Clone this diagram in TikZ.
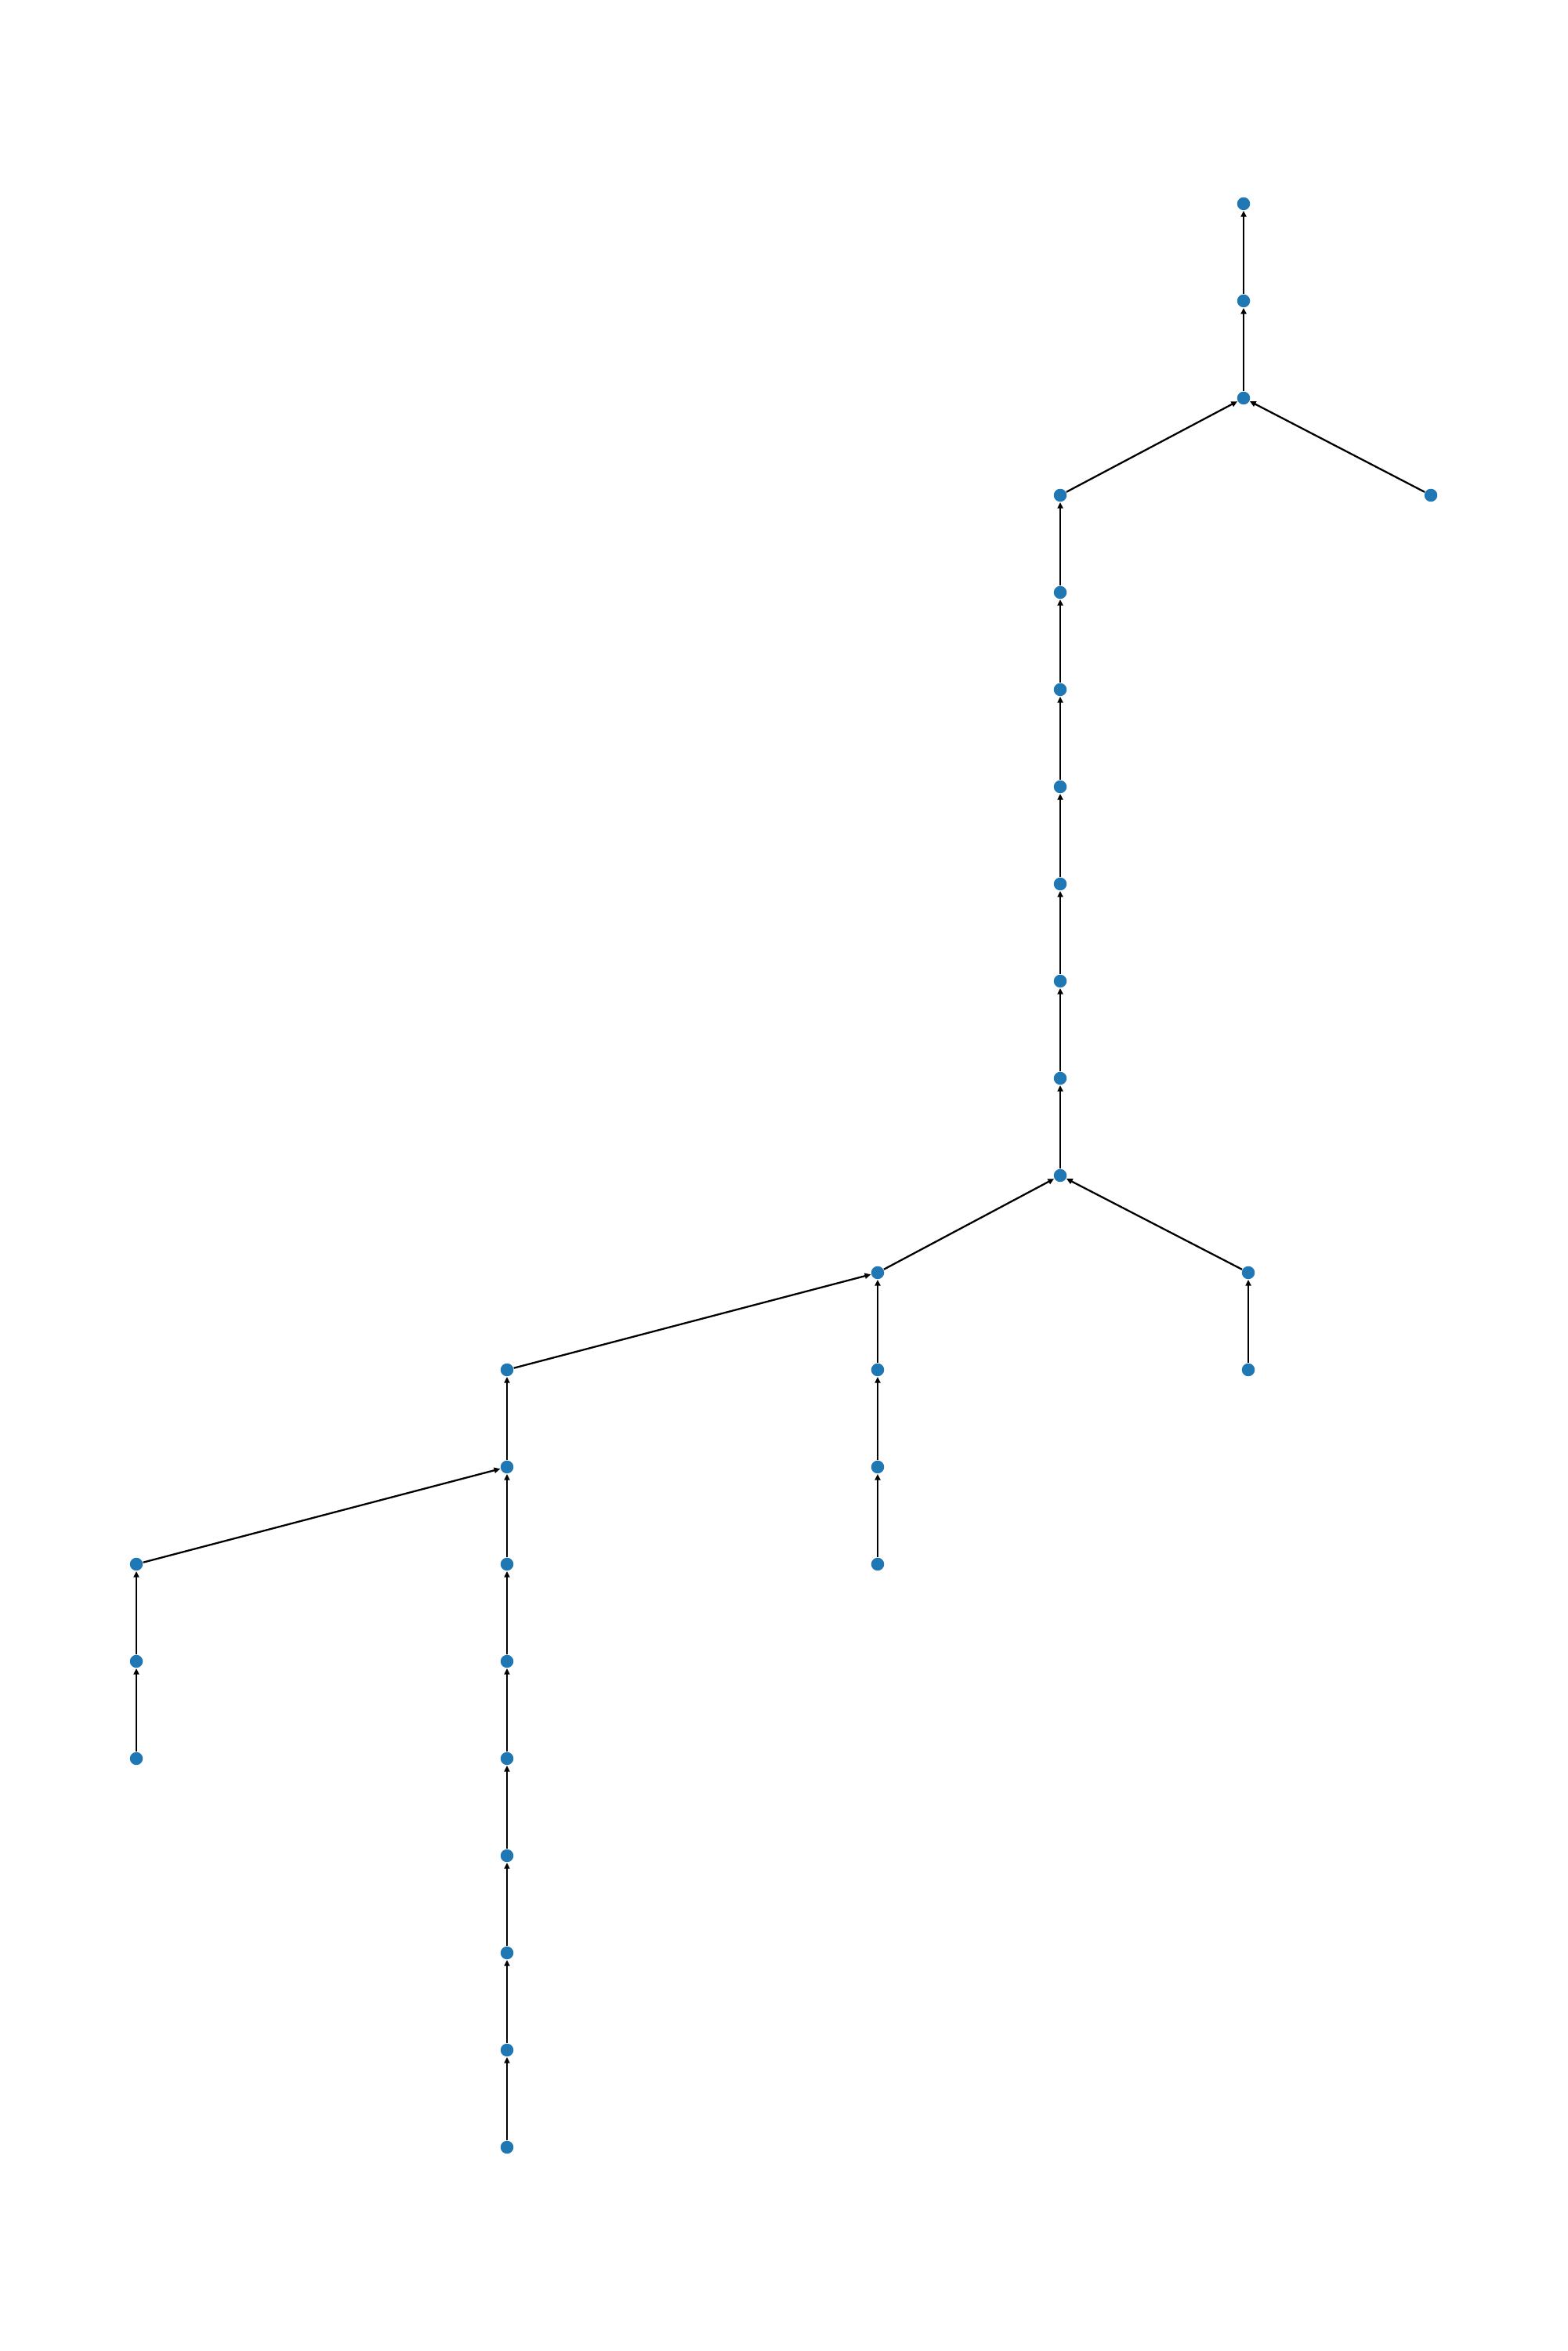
\documentclass[tikz,border=0pt]{standalone}
\usepackage{xcolor}
\usepackage{tikz}
\usetikzlibrary{arrows.meta}
\definecolor{clrDot}{RGB}{31,119,180}

\begin{document}
\begin{tikzpicture}[x=1cm,y=1cm,
    dot/.style={circle,fill=clrDot,inner sep=0pt,minimum size=0.165cm},
    edge/.style={-{Triangle[length=2.2pt,width=2pt]},line width=0.65pt,black}]
  \useasboundingbox (0,0) rectangle (20,30);
  \def\dy{1.24}
  \def\ytop{27.40}

  % columns of nodes, one level = \dy
  \foreach \i in {0,1,2}{\node[dot] (t\i) at (15.87,{\ytop-\i*\dy}) {};}
  \node[dot] (r) at (18.26,{\ytop-3*\dy}) {};
  \foreach \i in {0,...,7}{\node[dot] (m\i) at (13.53,{\ytop-(\i+3)*\dy}) {};}
  \foreach \i in {0,1}{\node[dot] (e\i) at (15.93,{\ytop-(\i+11)*\dy}) {};}
  \foreach \i in {0,...,3}{\node[dot] (c\i) at (11.20,{\ytop-(\i+11)*\dy}) {};}
  \foreach \i in {0,...,8}{\node[dot] (l\i) at (6.47,{\ytop-(\i+12)*\dy}) {};}
  \foreach \i in {0,1,2}{\node[dot] (f\i) at (1.74,{\ytop-(\i+14)*\dy}) {};}

  % edges point to the parent
  \draw[edge] (t1) -- (t0);
  \draw[edge] (t2) -- (t1);
  \draw[edge] (m0) -- (t2);
  \draw[edge] (r) -- (t2);
  \foreach \i [evaluate=\i as \j using int(\i+1)] in {0,...,6}{\draw[edge] (m\j) -- (m\i);}
  \draw[edge] (e0) -- (m7);
  \draw[edge] (c0) -- (m7);
  \draw[edge] (e1) -- (e0);
  \foreach \i [evaluate=\i as \j using int(\i+1)] in {0,1,2}{\draw[edge] (c\j) -- (c\i);}
  \draw[edge] (l0) -- (c0);
  \foreach \i [evaluate=\i as \j using int(\i+1)] in {0,...,7}{\draw[edge] (l\j) -- (l\i);}
  \draw[edge] (f0) -- (l1);
  \foreach \i [evaluate=\i as \j using int(\i+1)] in {0,1}{\draw[edge] (f\j) -- (f\i);}
\end{tikzpicture}
\end{document}
